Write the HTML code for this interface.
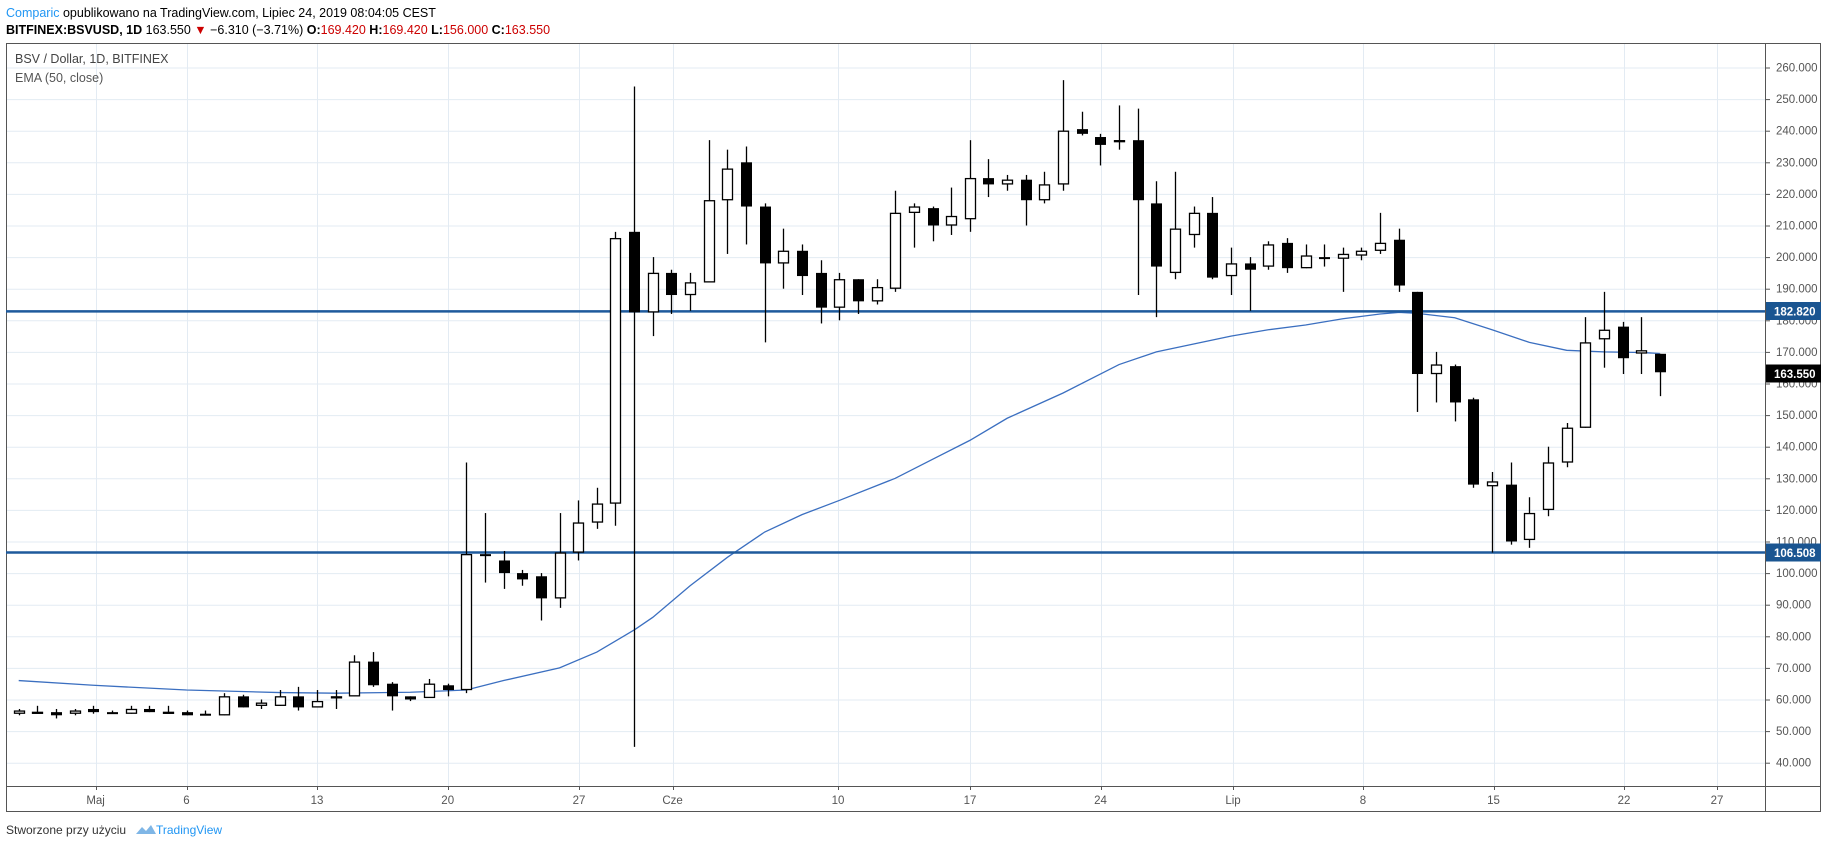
<!DOCTYPE html>
<html><head><meta charset="utf-8"><style>
body{margin:0;background:#fff;font-family:"Liberation Sans",sans-serif;}
svg{display:block}
</style></head><body>
<svg id="s" width="1828" height="849" xmlns="http://www.w3.org/2000/svg" font-family="Liberation Sans, sans-serif">
<rect width="1828" height="849" fill="#fff"/>
<text x="6" y="17" font-size="12.5" fill="#000"><tspan fill="#2196f3">Comparic</tspan> opublikowano na TradingView.com, Lipiec 24, 2019 08:04:05 CEST</text>
<text x="6" y="34" font-size="12.5" fill="#000"><tspan font-weight="bold">BITFINEX:BSVUSD, 1D</tspan> 163.550 <tspan fill="#c00">▼</tspan> −6.310 (−3.71%) <tspan font-weight="bold">O:</tspan><tspan fill="#c00">169.420</tspan> <tspan font-weight="bold">H:</tspan><tspan fill="#c00">169.420</tspan> <tspan font-weight="bold">L:</tspan><tspan fill="#c00">156.000</tspan> <tspan font-weight="bold">C:</tspan><tspan fill="#c00">163.550</tspan></text>
<g id="grid" stroke="#e3ebf3" stroke-width="1"></g>
<rect x="6.5" y="43.5" width="1814" height="768" fill="none" stroke="#555"/>
<line x1="1765.5" y1="43" x2="1765.5" y2="812" stroke="#555"/>
<line x1="6" y1="786.5" x2="1821" y2="786.5" stroke="#555"/>
<text x="15" y="63" font-size="12.5" fill="#444">BSV / Dollar, 1D, BITFINEX</text>
<text x="15" y="82" font-size="12.5" fill="#555">EMA (50, close)</text>
<g id="ema"></g>
<line x1="6" y1="311.4" x2="1765" y2="311.4" stroke="#1e5a9c" stroke-width="2.5"/>
<line x1="6" y1="552.5" x2="1765" y2="552.5" stroke="#1e5a9c" stroke-width="2.5"/>
<g id="c"></g>
<g font-size="11.5" fill="#555">
<text x="1776" y="71.5">260.000</text><text x="1776" y="103">250.000</text><text x="1776" y="134.7">240.000</text><text x="1776" y="166.3">230.000</text><text x="1776" y="197.9">220.000</text><text x="1776" y="229.5">210.000</text><text x="1776" y="261.1">200.000</text><text x="1776" y="292.7">190.000</text><text x="1776" y="324.3">180.000</text><text x="1776" y="355.9">170.000</text><text x="1776" y="387.5">160.000</text><text x="1776" y="419.1">150.000</text><text x="1776" y="450.7">140.000</text><text x="1776" y="482.3">130.000</text><text x="1776" y="513.9">120.000</text><text x="1776" y="545.5">110.000</text><text x="1776" y="577.1">100.000</text><text x="1776" y="608.7">90.000</text><text x="1776" y="640.3">80.000</text><text x="1776" y="671.9">70.000</text><text x="1776" y="703.5">60.000</text><text x="1776" y="735.1">50.000</text><text x="1776" y="766.7">40.000</text>
</g>
<g id="ticks" stroke="#555"></g>
<rect x="1766" y="302" width="55" height="18" fill="#1a5591"/>
<text x="1774" y="315.5" font-size="11.5" font-weight="bold" fill="#fff">182.820</text>
<rect x="1766" y="543.5" width="55" height="18" fill="#1a5591"/>
<text x="1774" y="557" font-size="11.5" font-weight="bold" fill="#fff">106.508</text>
<rect x="1766" y="364.5" width="55" height="18" fill="#000"/>
<text x="1774" y="378" font-size="11.5" font-weight="bold" fill="#fff">163.550</text>
<g font-size="11.5" fill="#555" text-anchor="middle">
<text x="95.6" y="804">Maj</text><text x="186.5" y="804">6</text><text x="317" y="804">13</text><text x="447.7" y="804">20</text><text x="579" y="804">27</text><text x="672.6" y="804">Cze</text><text x="838" y="804">10</text><text x="970" y="804">17</text><text x="1100.5" y="804">24</text><text x="1233" y="804">Lip</text><text x="1363" y="804">8</text><text x="1493.5" y="804">15</text><text x="1624" y="804">22</text><text x="1717" y="804">27</text>
</g>
<text x="6" y="834" font-size="12" fill="#333">Stworzone przy użyciu</text>
<path d="M136 834 l6 -7 l4 4 l5 -6 l5 9 z" fill="#7fb6e6"/>
<text x="156" y="834" font-size="12" fill="#2196f3">TradingView</text>
</svg>
<script>
var NS="http://www.w3.org/2000/svg";
function el(p,t,a){var e=document.createElementNS(NS,t);for(var k in a)e.setAttribute(k,a[k]);p.appendChild(e);return e;}
function Y(p){return 762.7-(p-40)*3.16;}
function X(d){return 93.3+18.65*d;}
var g=document.getElementById('grid');
for(var p=40;p<=260;p+=10){el(g,'line',{x1:7,x2:1765,y1:Y(p)+.5,y2:Y(p)+.5});}
[95.6,186.5,317,447.7,579,672.6,838,970,1100.5,1233,1363,1493.5,1624,1717].forEach(function(x){el(g,'line',{x1:Math.round(x)+.5,x2:Math.round(x)+.5,y1:44,y2:786});el(document.getElementById('ticks'),'line',{x1:Math.round(x)+.5,x2:Math.round(x)+.5,y1:786,y2:790});});
var tk=document.getElementById('ticks');
for(var p=40;p<=260;p+=10){el(tk,'line',{x1:1765,x2:1770,y1:Y(p)+.5,y2:Y(p)+.5});}
var D=[
[-4,55.5,57,55,56.5],[-3,56,58,56,56.1],[-2,56,57,54,55],[-1,55.5,57,55,56.5],[0,57,58,55.5,56],[1,56,56.5,55.5,55.5],[2,55.5,58,55.5,57],[3,57,58,56,56],[4,56,58,56,56.1],[5,56,56.5,55,55],[6,55.5,56.5,55,55],
[7,55,62,55,61],[8,61,61.5,57.5,57.5],[9,58,60,57,59],[10,58,63,58,61],[11,61,64,56.5,57.5],[12,57.5,63,57.5,59.5],[13,60.5,63,57,61],[14,61,74,61,72],[15,72,75,64,64.5],[16,65,65.5,56.5,61],[17,61,61,59.5,60],[18,60.5,66.5,60.5,65],[19,64.5,65,61,63],
[20,63,135,62,106],[21,106,119,97,105.5],[22,104,107,95,100],[23,100,101,96,98],[24,99,100,85,92],[25,92,119,89,106.5],[26,106.5,123,104,116],[27,116,127,114,122],[28,122,208,115,206],[29,208,254,45,182.5],
[30,182.5,200,175,195],[31,195,196,182,188],[32,188,195,183,192],[33,192,237,192,218],[34,218,234,201,228],[35,230,235,204,216],[36,216,217,173,198],[37,198,209,190,202],[38,202,204,188,194],[39,195,199,179,184],[40,184,195,180,193],[41,193,193,182,186],[42,186,193,185,190.5],
[43,190,221,189,214],[44,214,217,203,216],[45,215.5,216,205,210],[46,210,222,207,213],[47,212,237,208,225],[48,225,231,219,223],[49,223,226,221,224.5],[50,224.5,226,210,218],[51,218,227,217,223],[52,223,256,221,240],[53,240.5,246,238.5,239],[54,238,239,229,235.5],[55,236.5,248,234,237],
[56,237,247,188,218],[57,217,224,181,197],[58,195,227,193,209],[59,207,216,203,214],[60,214,219,193,193.5],[61,194,203,188,198],[62,198,200,183,196],[63,197,205,196,204],[64,204.5,206,195,196.5],[65,196.5,204,196.5,200.5],[66,200,204,197,199.5],[67,199.5,203,189,201],[68,200.5,203,199,202],[69,202,214,201,204.5],
[70,205.5,209,189,191],[71,189,189,151,163],[72,163,170,154,166],[73,165.5,166,148,154],[74,155,155.5,127,128],[75,127.5,132,106.5,129],[76,128,135,109,110],[77,110.5,124,108,119],[78,120,140,118,135],[79,135,147.5,133.5,146],[80,146,181,146,173],[81,174,189,165,177],[82,178,179.5,163,168],[83,169.5,181,163,170.5],[84,169.4,169.4,156,163.55]];
var c=document.getElementById('c');
D.forEach(function(r){var x=Math.round(X(r[0]));
el(c,'line',{x1:x+.5,x2:x+.5,y1:Y(r[2]),y2:Y(r[3]),stroke:'#000','stroke-width':1.3});
var t=Y(Math.max(r[1],r[4])),b=Y(Math.min(r[1],r[4]));if(b-t<2){b=t+2;}
if(r[4]<r[1])el(c,'rect',{x:x-5,y:t,width:11,height:b-t,fill:'#000'});
else el(c,'rect',{x:x-4.5,y:t+.5,width:10,height:Math.max(1,b-t-1),fill:'#fff',stroke:'#000','stroke-width':1.3});
});
var E=[[-4,66],[0,64.5],[5,63],[10,62.2],[13,62],[17,62.3],[20,63],[22,66],[25,70],[27,75],[29,82],[30,86],[32,96],[34,105],[36,113],[38,118.5],[40,123],[43,130],[45,136],[47,142],[49,149],[52,157],[55,166],[57,170],[59,172.5],[61,175],[63,177],[65,178.5],[67,180.5],[69,182],[70,182.5],[71,182.2],[73,180.8],[75,177],[77,173],[79,170.5],[81,170],[83,169.8],[84,169.5]];
el(document.getElementById('ema'),'polyline',{points:E.map(function(e){return X(e[0])+','+Y(e[1]);}).join(' '),fill:'none',stroke:'#3b6fc0','stroke-width':1.3});
</script>
</body></html>
